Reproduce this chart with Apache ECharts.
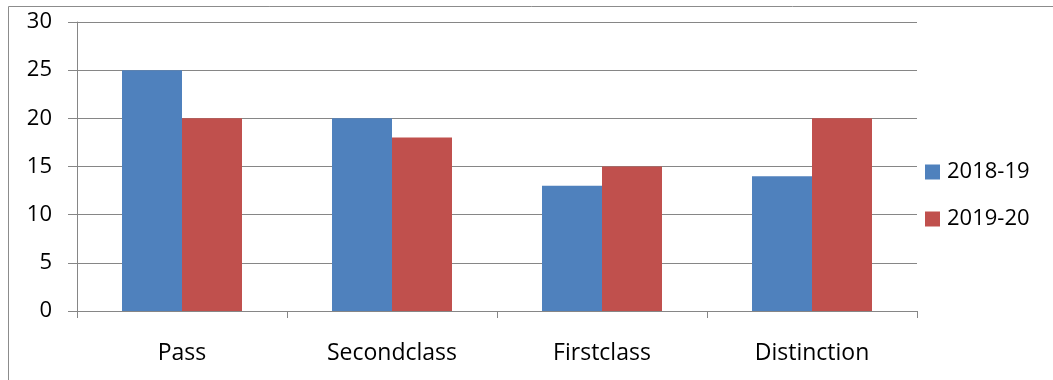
<!DOCTYPE html>
<html>
<head>
<meta charset="utf-8">
<script src="https://cdn.jsdelivr.net/npm/echarts@6/dist/echarts.min.js"></script>
<style>
  html, body { margin: 0; padding: 0; background: #fff; }
  #chart { width: 1053px; height: 380px; }
</style>
</head>
<body>
<div id="chart"></div>
<script>
// Result counts per class, two academic years
const categories = ['Pass', 'Secondclass', 'Firstclass', 'Distinction'];
const series2018 = [25, 20, 13, 14];
const series2019 = [20, 18, 15, 20];
const seriesNames = ['2018-19', '2019-20'];
const yTicks = { min: 0, max: 30, interval: 5 };

const font = '"Open Sans", Lato, sans-serif';
const gridGray = '#868686';

const chart = echarts.init(document.getElementById('chart'), null, { renderer: 'canvas' });
chart.setOption({
  animation: false,
  backgroundColor: '#fff',
  graphic: [{
    type: 'rect',
    shape: { x: 8.5, y: 6.5, width: 1100, height: 400 },
    style: { fill: 'none', stroke: '#8c8c8c', lineWidth: 1 },
    silent: true
  }],
  grid: { left: 77, top: 22, right: 136, bottom: 69, containLabel: false },
  legend: {
    orient: 'vertical',
    left: 925,
    top: 161,
    padding: 0,
    itemWidth: 15,
    itemHeight: 15,
    itemGap: 25,
    icon: 'rect',
    textStyle: { fontFamily: font, fontSize: 22, color: '#000', padding: [0, 0, 0, 2] },
    data: seriesNames
  },
  xAxis: {
    type: 'category',
    data: categories,
    axisLine: { show: true, lineStyle: { color: gridGray, width: 1 } },
    axisTick: { show: true, alignWithLabel: false, length: 7, lineStyle: { color: gridGray } },
    axisLabel: { fontFamily: font, fontSize: 23, color: '#000', margin: 31 },
    splitLine: { show: false }
  },
  yAxis: {
    type: 'value',
    min: yTicks.min,
    max: yTicks.max,
    interval: yTicks.interval,
    axisLine: { show: true, lineStyle: { color: gridGray, width: 1 } },
    axisTick: { show: true, inside: false, length: 9, lineStyle: { color: gridGray } },
    axisLabel: { fontFamily: font, fontSize: 22, color: '#000', margin: 25 },
    splitLine: { show: true, lineStyle: { color: gridGray, width: 1 } }
  },
  series: [
    {
      name: seriesNames[0],
      type: 'bar',
      data: series2018,
      barWidth: 60,
      barGap: '0%',
      itemStyle: { color: '#4F81BD' }
    },
    {
      name: seriesNames[1],
      type: 'bar',
      data: series2019,
      barWidth: 60,
      barGap: '0%',
      itemStyle: { color: '#C0504D' }
    }
  ]
});
</script>
</body>
</html>
